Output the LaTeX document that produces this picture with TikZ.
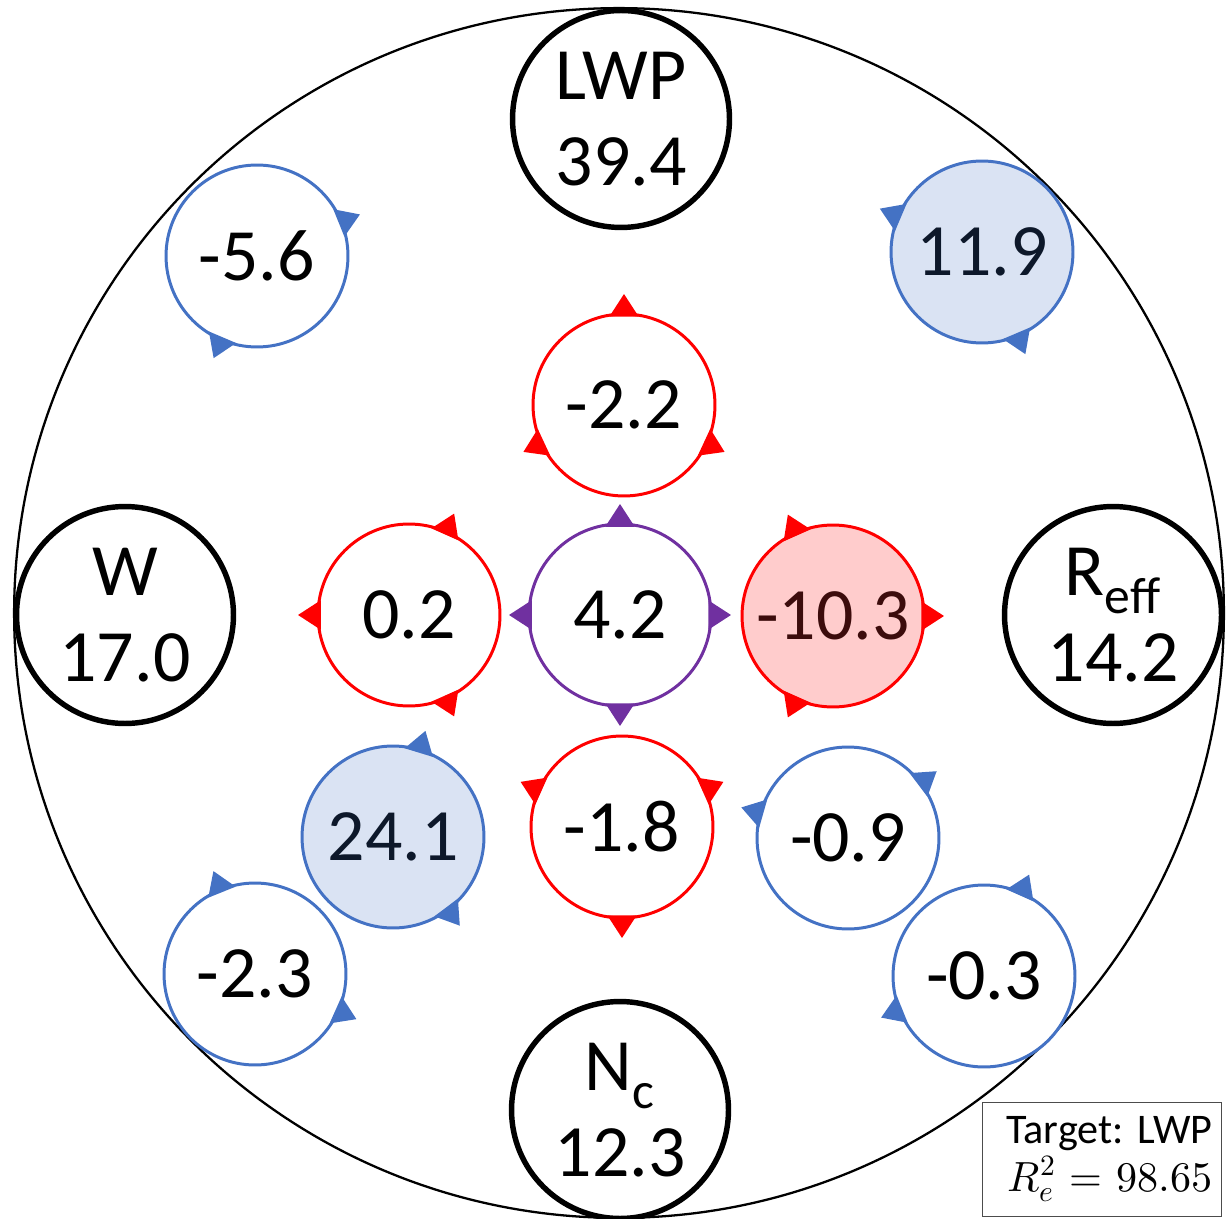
\documentclass[tikz,border=0pt]{standalone}
\usepackage{fontspec}
\usepackage{unicode-math}
\setmainfont{Carlito}
\setmathfont{Latin Modern Math}
\usepackage{tikz}
\usetikzlibrary{calc}
\definecolor{lineBlue}{RGB}{68,114,196}
\definecolor{fillBlue}{RGB}{218,227,243}
\definecolor{textBlue}{RGB}{13,24,42}
\definecolor{fillRed}{RGB}{255,204,204}
\definecolor{textRed}{RGB}{60,12,12}
\definecolor{linePurple}{RGB}{112,48,160}

% small triangle sitting on a circle node, pointing out at the given angle
\newcommand{\tipmark}[3]{\fill[#1] ($(#2)+(#3-9.5:1.79cm)$) -- ($(#2)+(#3:2.22cm)$) -- ($(#2)+(#3+9.5:1.79cm)$) -- cycle;}

\begin{document}
\frenchspacing
\begin{tikzpicture}[
    x=0.02cm, y=-0.02cm,
    font=\fontsize{42}{49}\selectfont,
    var/.style={circle, draw=black, line width=3.1pt, minimum size=4.34cm, inner sep=0pt, align=center},
    bluenode/.style={circle, draw=lineBlue, line width=1.7pt, fill=white, minimum size=3.64cm, inner sep=0pt},
    rednode/.style={circle, draw=red, line width=1.7pt, fill=white, minimum size=3.64cm, inner sep=0pt},
    purplenode/.style={circle, draw=linePurple, line width=1.7pt, fill=white, minimum size=3.64cm, inner sep=0pt}
  ]
    \useasboundingbox (0,0) rectangle (1226,1219);
    \node[circle, draw=black, line width=1.3pt, minimum size=24.2cm] (ring) at (619,613) {};

    \node[var] (lwp) at (621,119) {LWP\\39.4};
    \node[var] (w) at (125,615) {W\\17.0};
    \node[var] (reff) at (1113,615) {R\textsubscript{eff}\\14.2};
    \node[var] (nc) at (620,1110) {N\textsubscript{c}\\12.3};

    \node[bluenode] (b56) at (257,256) {-5.6};
    \node[bluenode, fill=fillBlue, text=textBlue] (b119) at (982,252) {11.9};
    \node[bluenode, fill=fillBlue, text=textBlue] (b241) at (393,837) {24.1};
    \node[bluenode] (b23) at (255,974) {-2.3};
    \node[bluenode] (b09) at (848,838) {-0.9};
    \node[bluenode] (b03) at (984,976) {-0.3};

    \node[rednode] (r22) at (624,405) {-2.2};
    \node[rednode] (r02) at (409,615) {0.2};
    \node[rednode, fill=fillRed, text=textRed] (r103) at (833,616) {-10.3};
    \node[rednode] (r18) at (622,827) {-1.8};
    \node[purplenode] (p42) at (620,615) {4.2};

    \tipmark{lineBlue}{b56}{22} \tipmark{lineBlue}{b56}{247}
    \tipmark{lineBlue}{b119}{157} \tipmark{lineBlue}{b119}{293}
    \tipmark{lineBlue}{b241}{73} \tipmark{lineBlue}{b241}{307}
    \tipmark{lineBlue}{b23}{112} \tipmark{lineBlue}{b23}{336}
    \tipmark{lineBlue}{b09}{164} \tipmark{lineBlue}{b09}{37}
    \tipmark{lineBlue}{b03}{66} \tipmark{lineBlue}{b03}{202}

    \tipmark{red}{r22}{90} \tipmark{red}{r22}{205} \tipmark{red}{r22}{335}
    \tipmark{red}{r02}{180} \tipmark{red}{r02}{66} \tipmark{red}{r02}{294}
    \tipmark{red}{r103}{0} \tipmark{red}{r103}{114} \tipmark{red}{r103}{246}
    \tipmark{red}{r18}{270} \tipmark{red}{r18}{156} \tipmark{red}{r18}{24}
    \tipmark{linePurple}{p42}{0} \tipmark{linePurple}{p42}{90} \tipmark{linePurple}{p42}{180} \tipmark{linePurple}{p42}{270}

    \node[draw=black!70, line width=0.8pt, fill=white, anchor=south east, inner xsep=0.18cm, inner ysep=0.12cm,
      minimum height=2.28cm, text width=4.42cm, align=right, font=\fontsize{24}{27}\selectfont] (score) at (1222,1217) {Target: LWP\\$R_e^2 = 98.65$};
  \end{tikzpicture}
\end{document}
